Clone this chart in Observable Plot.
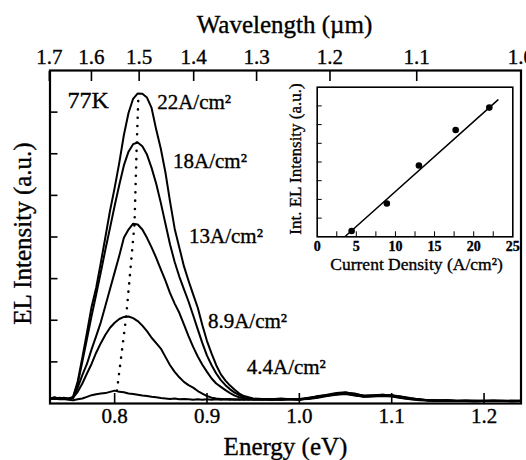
<!DOCTYPE html>
<html><head><meta charset="utf-8">
<script src="https://cdn.jsdelivr.net/npm/d3@7"></script>
<script src="https://cdn.jsdelivr.net/npm/@observablehq/plot@0.6"></script>
<style>
body{margin:0;background:#fff}
#wrap{position:relative;width:526px;height:460px;overflow:hidden}
#inset{position:absolute;left:280px;top:76px}
#wrap svg, #wrap svg text, #wrap svg g{font-family:"Liberation Serif","Times New Roman",serif !important}
#wrap svg text{stroke:#000;stroke-width:0.35px}
</style>
</head><body><div id="wrap"></div>
<script>
// ---------- data ----------
const energy = [0.730,0.735,0.740,0.745,0.750,0.755,0.760,0.765,0.770,0.775,0.780,0.785,0.790,0.795,0.800,0.805,0.810,0.815,0.820,0.825,0.830,0.835,0.840,0.845,0.850,0.855,0.860,0.865,0.870,0.875,0.880,0.885,0.890,0.895,0.900,0.905,0.910,0.915,0.920,0.925,0.930,0.935,0.940,0.945,0.950,0.96,0.97,0.98,0.99,1.00,1.01,1.02,1.03,1.04,1.05,1.06,1.07,1.08,1.09,1.10,1.11,1.12,1.13,1.14,1.15,1.16,1.17,1.18,1.19,1.20,1.21,1.22,1.23,1.24];
const int22 = [0.12,0.15,0.11,0.14,0.11,0.16,0.53,1.10,1.70,2.32,2.78,3.38,4.00,4.63,5.18,5.78,6.45,6.98,7.32,7.45,7.44,7.35,7.10,6.58,6.12,5.55,4.85,4.20,3.75,3.30,2.95,2.62,2.30,1.88,1.50,1.20,0.92,0.70,0.55,0.43,0.33,0.24,0.18,0.15,0.12,0.11,0.10,0.12,0.10,0.11,0.14,0.17,0.21,0.25,0.27,0.22,0.19,0.20,0.21,0.19,0.16,0.12,0.10,0.08,0.07,0.08,0.06,0.07,0.06,0.06,0.07,0.06,0.06,0.07];
const int18 = [0.13,0.11,0.14,0.12,0.12,0.15,0.48,1.00,1.55,2.10,2.62,3.15,3.70,4.22,4.75,5.25,5.72,6.05,6.23,6.27,6.18,5.98,5.66,5.28,4.82,4.32,3.82,3.40,3.05,2.75,2.45,2.12,1.78,1.45,1.15,0.92,0.72,0.56,0.44,0.34,0.26,0.20,0.15,0.13,0.11,0.10,0.11,0.09,0.11,0.10,0.12,0.18,0.20,0.23,0.26,0.24,0.18,0.19,0.20,0.20,0.17,0.13,0.09,0.08,0.08,0.07,0.07,0.06,0.07,0.06,0.06,0.07,0.06,0.06];
const int13 = [0.12,0.14,0.12,0.13,0.11,0.13,0.38,0.68,0.95,1.30,1.62,1.95,2.35,2.75,3.15,3.55,3.98,4.18,4.32,4.30,4.18,3.98,3.75,3.50,3.22,2.95,2.65,2.40,2.18,1.90,1.62,1.36,1.13,0.93,0.76,0.60,0.48,0.40,0.32,0.25,0.19,0.15,0.13,0.12,0.10,0.11,0.09,0.10,0.11,0.09,0.13,0.16,0.19,0.22,0.25,0.21,0.17,0.18,0.21,0.19,0.15,0.12,0.10,0.07,0.07,0.07,0.06,0.07,0.06,0.07,0.06,0.06,0.07,0.06];
const int89 = [0.13,0.12,0.13,0.11,0.12,0.14,0.28,0.48,0.72,0.95,1.22,1.45,1.65,1.82,1.94,2.03,2.08,2.09,2.05,1.98,1.87,1.74,1.58,1.45,1.32,1.12,0.92,0.76,0.63,0.52,0.44,0.38,0.30,0.24,0.18,0.14,0.12,0.11,0.10,0.11,0.09,0.10,0.09,0.10,0.09,0.10,0.09,0.10,0.10,0.09,0.12,0.15,0.19,0.22,0.24,0.20,0.17,0.18,0.19,0.18,0.14,0.11,0.09,0.07,0.06,0.07,0.06,0.06,0.06,0.06,0.07,0.06,0.06,0.06];
const int44 = [0.10,0.12,0.10,0.11,0.09,0.08,0.10,0.12,0.16,0.20,0.22,0.24,0.25,0.28,0.31,0.28,0.27,0.24,0.23,0.21,0.19,0.18,0.16,0.15,0.13,0.12,0.11,0.12,0.10,0.11,0.10,0.09,0.10,0.09,0.10,0.09,0.10,0.09,0.10,0.09,0.10,0.09,0.10,0.09,0.10,0.09,0.10,0.09,0.10,0.10,0.11,0.14,0.18,0.21,0.23,0.19,0.16,0.17,0.18,0.17,0.13,0.10,0.08,0.07,0.06,0.06,0.06,0.06,0.05,0.06,0.06,0.06,0.05,0.06];
const seriesNames = ["22A/cm²","18A/cm²","13A/cm²","8.9A/cm²","4.4A/cm²"];
const seriesValues = [int22,int18,int13,int89,int44];
const peakEnergy = [0.8025,0.8125,0.8215,0.8240,0.8258];
const peakIntensity = [0.31,2.09,4.31,6.27,7.43];
const energyTicks = [0.8,0.9,1.0,1.1,1.2];
const wavelengthTicks = [1.7,1.6,1.5,1.4,1.3,1.2,1.1,1.0];
const intensityTicks = [1,2,3,4,5,6,7];
// inset
const currentDensity = [4.4,8.9,13,17.7,22];
const integratedEL = [0.31,1.78,3.81,5.71,6.91];
const fitCurrent = [3.6,23.1];
const fitEL = [0.03,7.32];
const insetXTicks = [2.5,5,7.5,10,12.5,15,17.5,20,22.5];
const insetXLabels = [0,5,10,15,20,25];
const insetYTicks = [1,2,3,4,5,6,7];

const HC = 1.2398; // eV·µm
const FONT = "Liberation Serif";

const rows = seriesNames.flatMap((s,k) => energy.map((e,i) => ({s, E:e, V:seriesValues[k][i]})));
const peaks = peakEnergy.map((e,i) => ({E:e, V:peakIntensity[i]}));
const labelPos = [[0.846,7.08],[0.8632,5.66],[0.8805,3.86],[0.901,1.82],[0.943,0.70]];

const main = Plot.plot({
  width:526, height:460,
  marginLeft:49.5, marginRight:5.5, marginTop:70, marginBottom:57,
  x:{domain:[0.730,1.240], label:null},
  y:{domain:[0,8], label:null},
  style:{fontFamily:FONT, background:"#fff", color:"#000", overflow:"visible"},
  marks:[
    Plot.line(rows, {x:"E", y:"V", z:"s", stroke:"#000", strokeWidth:2, strokeLinejoin:"round"}),
    Plot.line(peaks, {x:"E", y:"V", stroke:"#000", strokeWidth:2.6, strokeLinecap:"round", strokeDasharray:"0 8.3"}),
    Plot.axisX({anchor:"bottom", ticks:energyTicks, tickSize:-10, tickPadding:15, tickFormat:d3.format(".1f"), fontSize:21, label:null, strokeWidth:1.6}),
    Plot.axisX({anchor:"top", ticks:wavelengthTicks.map(w => HC/w), tickSize:-10, tickPadding:17, tickFormat:e => (HC/e).toFixed(1), fontSize:21, label:null, strokeWidth:1.6}),
    Plot.axisY({anchor:"left", ticks:intensityTicks, tickSize:-8, tickFormat:() => "", label:null, strokeWidth:1.6}),
    Plot.frame({stroke:"#000", strokeWidth:2.2}),
    Plot.text(["Energy (eV)"], {text:d=>d, frameAnchor:"bottom", textAnchor:"middle", dy:51, lineAnchor:"bottom", fontSize:25}),
    Plot.text(["Wavelength (µm)"], {text:d=>d, frameAnchor:"top", textAnchor:"middle", dy:-38, dx:-1, lineAnchor:"bottom", fontSize:25}),
    Plot.text(["EL Intensity (a.u.)"], {text:d=>d, frameAnchor:"left", textAnchor:"middle", rotate:-90, dx:-19.5, dy:-3.5, lineAnchor:"bottom", fontSize:25}),
    Plot.text(["77K"], {text:d=>d, x:0.749, y:7.10, textAnchor:"start", lineAnchor:"bottom", fontSize:24}),
    Plot.text(seriesNames, {text:d=>d, x:(d,i)=>labelPos[i][0], y:(d,i)=>labelPos[i][1], textAnchor:"start", lineAnchor:"bottom", fontSize:21})
  ]
});

const fit = fitCurrent.map((c,i) => ({c, v:fitEL[i]}));
const pts = currentDensity.map((c,i) => ({c, v:integratedEL[i]}));
const inset = Plot.plot({
  width:246, height:200,
  marginLeft:36.7, marginRight:13.7, marginTop:10.7, marginBottom:39.7,
  x:{domain:[0,25], label:null},
  y:{domain:[0,8], label:null},
  style:{fontFamily:FONT, background:"transparent", color:"#000", overflow:"visible"},
  marks:[
    Plot.axisX({anchor:"bottom", ticks:insetXTicks, tickSize:-5, tickFormat:() => "", label:null}),
    Plot.axisX({anchor:"bottom", ticks:insetXLabels, tickSize:0, tickPadding:4, fontSize:14, fontWeight:"bold", label:null}),
    Plot.axisY({anchor:"left", ticks:insetYTicks, tickSize:-5, tickFormat:() => "", label:null}),
    Plot.line(fit, {x:"c", y:"v", stroke:"#000", strokeWidth:1.5}),
    Plot.dot(pts, {x:"c", y:"v", r:3.3, fill:"#000", stroke:null}),
    Plot.frame({stroke:"#000", strokeWidth:1.6}),
    Plot.text(["Int. EL Intensity (a.u.)"], {text:d=>d, frameAnchor:"left", textAnchor:"middle", rotate:-90, dx:-16.7, dy:-3, lineAnchor:"bottom", fontSize:17}),
    Plot.text(["Current Density (A/cm²)"], {text:d=>d, frameAnchor:"bottom", textAnchor:"middle", dx:1.5, dy:33.2, lineAnchor:"bottom", fontSize:17.5})
  ]
});
inset.id = "inset";
const wrap = document.getElementById("wrap");
wrap.append(main);
wrap.append(inset);
</script>
</body></html>
